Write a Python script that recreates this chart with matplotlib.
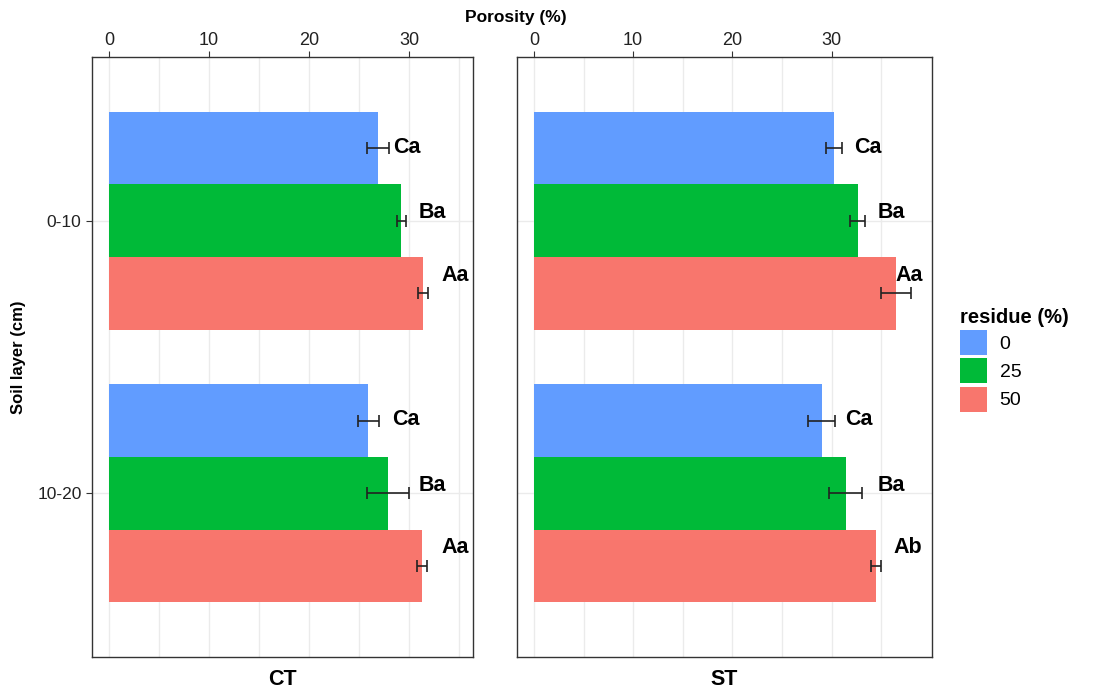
import matplotlib.pyplot as plt
from matplotlib.patches import Patch

plt.rcParams['font.family'] = ['Liberation Sans', 'DejaVu Sans']

# data
layers = ['0-10', '10-20']
residues = ['0', '25', '50']
colors = ['#619CFF', '#00BA38', '#F8766D']

ct_mean = [[26.9, 29.2, 31.4], [25.9, 27.9, 31.3]]
ct_err = [[1.1, 0.45, 0.5], [1.05, 2.1, 0.5]]
ct_letters = [['Ca', 'Ba', 'Aa'], ['Ca', 'Ba', 'Aa']]
ct_label_x = [[29.8, 32.3, 34.6], [29.7, 32.3, 34.6]]

st_mean = [[30.2, 32.6, 36.5], [29.0, 31.4, 34.5]]
st_err = [[0.8, 0.72, 1.5], [1.34, 1.66, 0.5]]
st_letters = [['Ca', 'Ba', 'Aa'], ['Ca', 'Ba', 'Ab']]
st_label_x = [[33.6, 36.0, 37.8], [32.7, 36.0, 37.7]]

label_dy = [-0.27, -0.03, 0.2]   # vertical offset of letters vs group centre

fig = plt.figure(figsize=(10.93, 6.91), dpi=100)
ax1 = fig.add_axes([0.0842, 0.0492, 0.3486, 0.8683])
ax2 = fig.add_axes([0.473, 0.0492, 0.3797, 0.8683])

bw = 0.8 / 3

def panel(ax, mean, err, letters, lab_x, xmax, name):
    for i in range(len(layers)):
        for j in range(len(residues)):
            y = i + 1 + (j - 1) * bw
            ax.barh(y, mean[i][j], height=bw, color=colors[j], zorder=2)
            ax.errorbar(mean[i][j], y, xerr=err[i][j], fmt='none', ecolor='#222222',
                        elinewidth=1.2, capsize=4.5, capthick=1.2, zorder=3)
            ax.text(lab_x[i][j], i + 1 + label_dy[j], letters[i][j], ha='center', va='center',
                    fontsize=15.5, fontweight='bold', zorder=4)
    ax.set_xlim(-1.7, xmax)
    ax.set_ylim(2.6, 0.4)
    ax.set_xticks([0, 10, 20, 30])
    ax.set_xticks([5, 15, 25, 35], minor=True)
    ax.set_yticks([1, 2])
    ax.set_yticklabels(layers)
    ax.xaxis.tick_top()
    ax.tick_params(axis='x', which='major', labelsize=13, length=4, color='#333333', pad=2, labelcolor='#222222')
    ax.tick_params(axis='x', which='minor', length=0)
    ax.tick_params(axis='y', labelsize=12.5, length=4, color='#333333', labelcolor='#222222')
    ax.grid(True, which='both', color='#EBEBEB', lw=1, zorder=0)
    ax.set_axisbelow(True)
    for s in ax.spines.values():
        s.set_color('#333333')
        s.set_linewidth(1)
    ax.text(0.5, -0.02, name, transform=ax.transAxes, ha='center', va='top',
            fontsize=15.5, fontweight='bold')

panel(ax1, ct_mean, ct_err, ct_letters, ct_label_x, 36.4, 'CT')
panel(ax2, st_mean, st_err, st_letters, st_label_x, 40.1, 'ST')
ax2.tick_params(axis='y', left=False, labelleft=False)

ax1.set_ylabel('Soil layer (cm)', fontsize=12, fontweight='bold', labelpad=8)
fig.text(0.472, 0.975, 'Porosity (%)', ha='center', va='center', fontsize=12.5, fontweight='bold')

handles = [Patch(facecolor=c, edgecolor='none') for c in colors]
leg = fig.legend(handles, residues, title='residue (%)', loc='upper left',
                 bbox_to_anchor=(0.862, 0.580), frameon=False, fontsize=14,
                 title_fontproperties={'weight': 'bold', 'size': 14.5},
                 handlelength=1.4, handleheight=1.6, labelspacing=0.17, handletextpad=0.65)
leg._legend_box.align = 'left'

fig.savefig('out.png', dpi=100)
